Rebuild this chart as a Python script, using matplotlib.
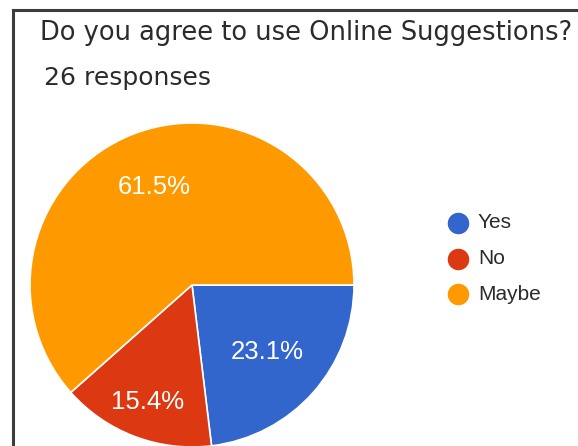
import numpy as np
import matplotlib
matplotlib.use("Agg")
import matplotlib.pyplot as plt
from matplotlib.lines import Line2D

# Survey answers
categories = ["Yes", "No", "Maybe"]
counts = [6, 4, 16]
colors = ["#3366CC", "#DC3912", "#FF9900"]
title = "Do you agree to use Online Suggestions?"
subtitle = "26 responses"

W, H = 578, 446
fig = plt.figure(figsize=(W / 100, H / 100), dpi=100)
fig.patch.set_facecolor("white")

# card frame (top and left edges)
fig.add_artist(Line2D([13 / W, 1.0], [1 - 10 / H, 1 - 10 / H], color="#3c3c3c", lw=2.2))
fig.add_artist(Line2D([13 / W, 13 / W], [0, 1 - 10 / H], color="#3c3c3c", lw=2.2))

fig.text(40 / W, 1 - 33 / H, title, fontsize=18.5, color="#2b2b2b",
         family="DejaVu Sans", va="center", ha="left")
fig.text(44 / W, 1 - 78 / H, subtitle, fontsize=18, color="#2b2b2b",
         family="DejaVu Sans", va="center", ha="left")

# pie axes
cx, cy, R = 192, 285, 162
ax = fig.add_axes([(cx - R) / W, (H - cy - R) / H, 2 * R / W, 2 * R / H])
wedges, _ = ax.pie(counts, colors=colors, startangle=0, counterclock=False,
                   radius=1.0, wedgeprops=dict(edgecolor="white", linewidth=1.2))
ax.set_xlim(-1, 1)
ax.set_ylim(-1, 1)
ax.set_aspect("equal")
ax.axis("off")

total = sum(counts)
label_dist = [0.62, 0.77, 0.65]
for w, c, d in zip(wedges, counts, label_dist):
    mid = np.deg2rad((w.theta1 + w.theta2) / 2)
    ax.text(d * np.cos(mid), d * np.sin(mid), f"{100 * c / total:.1f}%",
            ha="center", va="center", color="white", fontsize=18.5,
            family="Liberation Sans")

# legend
for i, (cat, col) in enumerate(zip(categories, colors)):
    y = 1 - (223 + 35.5 * i) / H
    fig.text(478 / W, y, cat, fontsize=15, color="#2b2b2b",
             family="Liberation Sans", va="center", ha="left")
    fig.add_artist(Line2D([458 / W], [y], marker="o", markersize=15.5,
                          color=col, markeredgewidth=0))

fig.savefig("out.png", dpi=100, facecolor="white")
